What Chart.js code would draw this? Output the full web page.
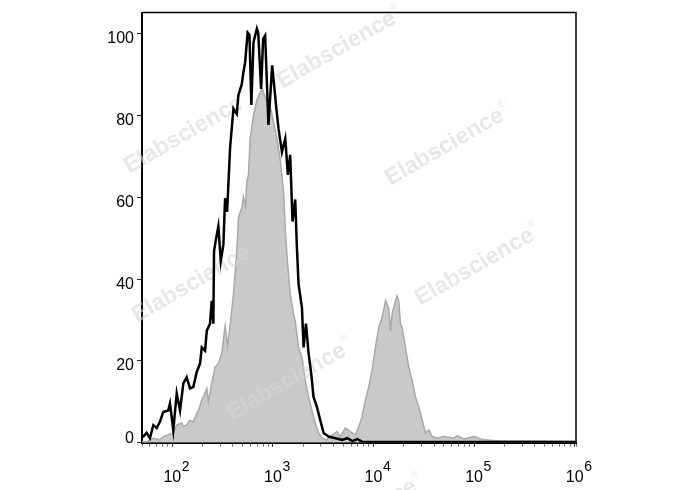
<!DOCTYPE html>
<html>
<head>
<meta charset="utf-8">
<script src="https://cdn.jsdelivr.net/npm/chart.js@4.4.0/dist/chart.umd.min.js"></script>
<style>
  html, body { margin: 0; padding: 0; background: #fff; }
</style>
</head>
<body>
<canvas id="histo" width="688" height="490"></canvas>
<script>
// x values as log10 of the channel, y as % of max

// isotype / unstained control (black outline)
const blackLogX = [1.699, 1.711, 1.745, 1.778, 1.811, 1.845, 1.877, 1.910, 1.960, 1.977,
    2.010, 2.044, 2.077, 2.110, 2.143, 2.176, 2.209, 2.243, 2.276, 2.293,
    2.326, 2.343, 2.375, 2.392, 2.408, 2.415, 2.430, 2.458, 2.482, 2.508,
    2.525, 2.545, 2.575, 2.608, 2.641, 2.657, 2.691, 2.707, 2.724, 2.749,
    2.767, 2.786, 2.807, 2.841, 2.854, 2.883, 2.903, 2.923, 2.956, 2.993,
    3.038, 3.056, 3.090, 3.123, 3.149, 3.172, 3.195, 3.222, 3.239, 3.255,
    3.289, 3.305, 3.329, 3.355, 3.381, 3.404, 3.438, 3.471, 3.504, 3.554,
    3.621, 3.687, 3.740, 3.790, 3.840, 3.889, 4.300, 5.000, 6.014];
const blackCount = [1.4, 1.5, 2.4, 1.1, 4.3, 3.6, 5.1, 7.5, 7.9, 9.6,
    3.1, 12.1, 7.9, 14.5, 16.0, 13.3, 13.6, 17.3, 19.4, 23.3,
    22.5, 27.4, 29.1, 34.7, 29.1, 46.8, 49.2, 52.9, 44.4, 48.5,
    59.8, 56.5, 72.3, 81.7, 80.4, 85.0, 87.7, 90.6, 93.0, 100.3,
    99.8, 82.6, 97.9, 101.3, 100.3, 86.5, 98.8, 99.6, 77.7, 92.3,
    80.9, 76.8, 71.1, 74.4, 65.5, 70.4, 54.1, 59.5, 47.6, 38.8,
    33.0, 23.3, 29.1, 21.8, 16.9, 11.2, 8.7, 5.5, 2.4, 1.5,
    1.1, 0.7, 1.1, 0.4, 0.9, 0.2, 0.2, 0.2, 0.2];

// stained sample (grey filled)
const grayLogX = [1.699, 1.745, 1.811, 1.877, 1.910, 2.010, 2.044, 2.094, 2.110, 2.143,
    2.176, 2.209, 2.243, 2.259, 2.293, 2.309, 2.343, 2.359, 2.392, 2.425,
    2.458, 2.492, 2.525, 2.550, 2.580, 2.608, 2.641, 2.659, 2.691, 2.707,
    2.729, 2.741, 2.757, 2.774, 2.807, 2.841, 2.874, 2.893, 2.923, 2.956,
    2.983, 3.006, 3.040, 3.073, 3.106, 3.123, 3.139, 3.172, 3.205, 3.222,
    3.255, 3.289, 3.322, 3.355, 3.388, 3.421, 3.454, 3.488, 3.531, 3.571,
    3.637, 3.670, 3.720, 3.770, 3.819, 3.853, 3.886, 3.919, 3.952, 3.986,
    4.019, 4.052, 4.086, 4.119, 4.151, 4.168, 4.185, 4.218, 4.235, 4.251,
    4.268, 4.285, 4.318, 4.351, 4.384, 4.417, 4.450, 4.484, 4.517, 4.550,
    4.584, 4.633, 4.699, 4.799, 4.833, 4.895, 4.998, 5.095, 5.264, 5.563, 6.014];
const grayCount = [0.3, 0.2, 1.1, 0.7, 1.5, 2.4, 4.3, 4.8, 3.9, 4.3,
    5.5, 5.1, 7.2, 7.9, 10.4, 11.2, 13.3, 10.1, 14.5, 18.5,
    19.4, 21.8, 28.6, 23.7, 29.8, 36.4, 46.8, 55.3, 57.4, 60.2,
    57.8, 63.8, 65.5, 74.4, 80.1, 83.8, 85.7, 86.7, 84.5, 82.6,
    81.3, 78.4, 74.4, 69.2, 61.4, 52.5, 46.1, 36.4, 31.5, 29.8,
    23.3, 20.9, 15.2, 11.2, 7.9, 4.8, 2.4, 1.1, 0.7, 1.5,
    2.7, 1.5, 3.6, 2.7, 1.9, 3.9, 6.3, 10.4, 13.6, 17.7,
    23.3, 28.2, 30.6, 34.7, 33.0, 27.4, 31.5, 34.7, 35.9, 34.7,
    29.1, 28.2, 23.3, 18.5, 15.2, 11.2, 8.7, 5.5, 2.4, 3.1,
    1.5, 1.1, 1.5, 1.1, 1.7, 0.9, 1.5, 0.7, 0.4, 0.4, 0.3];

const xDecades = [2, 3, 4, 5, 6];
const yTicks = [0, 20, 40, 60, 80, 100];
const watermarkText = 'Elabscience';

const FONT = "'Liberation Sans', Arial, sans-serif";
const X_TICK_LEN = 4;
const X_TICK_PAD = 21;

function toPoints(logs, counts) {
    return logs.map((lx, i) => ({ x: Math.pow(10, lx), y: counts[i] }));
}

function decadeOf(v) {
    const lg = Math.log10(v);
    const r = Math.round(lg);
    return (Math.abs(lg - r) < 1e-6 && xDecades.includes(r)) ? r : null;
}

// faint logo text, drawn above the grey fill but under the black line
const watermark = {
    id: 'watermark',
    afterDatasetDraw(chart, args) {
        if (args.meta.label !== 'sample') return;
        const ctx = chart.ctx;
        const spots = [[187, 133], [340, 48], [448, 145], [478, 265], [195, 282], [290, 380], [361, 516]];
        ctx.save();
        ctx.fillStyle = 'rgba(214,214,214,0.58)';
        spots.forEach(([cx, cy]) => {
            ctx.save();
            ctx.translate(cx, cy);
            ctx.rotate(-30 * Math.PI / 180);
            ctx.font = 'bold 23px ' + FONT;
            ctx.textBaseline = 'middle';
            const w = ctx.measureText(watermarkText).width;
            ctx.fillText(watermarkText, -w / 2 - 4, 0);
            ctx.font = '10px ' + FONT;
            ctx.fillText('®', w / 2 - 3, -9);
            ctx.restore();
        });
        ctx.restore();
    }
};

// top/right frame + decade exponents
const frameAndExponents = {
    id: 'frameAndExponents',
    afterDraw(chart) {
        const ctx = chart.ctx;
        const a = chart.chartArea;
        ctx.save();
        ctx.strokeStyle = '#000';
        ctx.lineWidth = 1.5;
        ctx.beginPath();
        ctx.moveTo(a.left, a.top);
        ctx.lineTo(a.right, a.top);
        ctx.lineTo(a.right, a.bottom);
        ctx.stroke();

        const xs = chart.scales.x;
        const labelY = xs.top + X_TICK_LEN + X_TICK_PAD + 9.6;
        ctx.fillStyle = '#000';
        ctx.font = '14px ' + FONT;
        ctx.textAlign = 'left';
        ctx.textBaseline = 'middle';
        xs.ticks.forEach(t => {
            const d = decadeOf(t.value);
            if (d === null) return;
            const px = xs.getPixelForValue(t.value);
            ctx.fillText(String(d), px + 9.5, labelY - 10);
        });
        ctx.restore();
    }
};

new Chart(document.getElementById('histo'), {
    type: 'line',
    data: {
        datasets: [
            {
                label: 'control',
                data: toPoints(blackLogX, blackCount),
                borderColor: '#000',
                borderWidth: 2.5,
                pointRadius: 0,
                tension: 0,
                fill: false,
                order: 0
            },
            {
                label: 'sample',
                data: toPoints(grayLogX, grayCount),
                borderColor: '#a9a9a9',
                backgroundColor: '#c9c9c9',
                borderWidth: 1.5,
                pointRadius: 0,
                tension: 0,
                fill: 'origin',
                order: 1
            }
        ]
    },
    options: {
        responsive: false,
        animation: false,
        layout: { padding: { left: 102, right: 112, top: 11, bottom: 0 } },
        plugins: { legend: { display: false }, tooltip: { enabled: false } },
        scales: {
            x: {
                type: 'logarithmic',
                min: 50,
                max: 1.03e6,
                z: 1,
                border: { display: true, color: '#000', width: 2 },
                grid: {
                    drawOnChartArea: false,
                    drawTicks: true,
                    tickLength: X_TICK_LEN,
                    tickWidth: 1,
                    tickColor: c => (c.tick && decadeOf(c.tick.value) !== null) ? '#222' : '#777'
                },
                afterBuildTicks(scale) {
                    // drop the 1.5x ticks chart.js adds
                    scale.ticks = scale.ticks.filter(t => {
                        const m = t.value / Math.pow(10, Math.floor(Math.log10(t.value) + 1e-9));
                        return Math.abs(m - 1.5) > 0.01;
                    });
                },
                afterFit(scale) { scale.height = 47.3; },
                ticks: {
                    autoSkip: false,
                    maxRotation: 0,
                    padding: X_TICK_PAD,
                    color: '#000',
                    font: { family: FONT, size: 16 },
                    callback: v => decadeOf(v) !== null ? '10' : ''
                }
            },
            y: {
                min: 0,
                max: 105.2,
                z: 1,
                border: { display: true, color: '#000', width: 2 },
                grid: {
                    drawOnChartArea: false,
                    drawTicks: true,
                    tickLength: 5,
                    tickColor: '#222'
                },
                afterBuildTicks(scale) {
                    scale.ticks = yTicks.map(v => ({ value: v }));
                },
                afterFit(scale) { scale.width = 40; },
                ticks: {
                    padding: 3,
                    labelOffset: 5,
                    color: '#000',
                    font: { family: FONT, size: 16 },
                    callback: v => v === 0 ? ['0', ''] : String(v)
                }
            }
        }
    },
    plugins: [watermark, frameAndExponents]
});
</script>
</body>
</html>
